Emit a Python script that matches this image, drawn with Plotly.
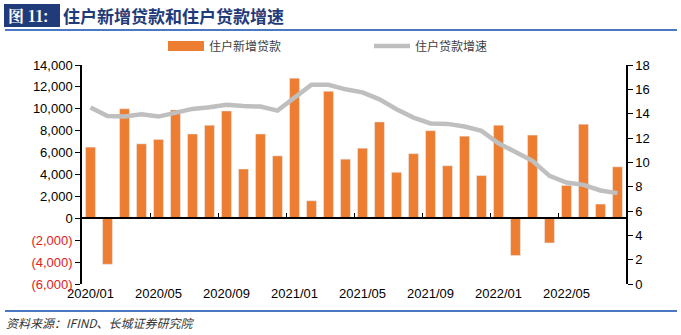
import plotly.graph_objects as go

months = [f"{y}/{m:02d}" for y in (2020, 2021, 2022) for m in range(1, 13)][:32]
new_loans = [6500, -4200, 10000, 6800, 7200, 9900, 7700, 8500, 9800, 4500, 7700, 5700,
             12800, 1600, 11600, 5400, 6400, 8800, 4200, 5900, 8000, 4800, 7500, 3900,
             8500, -3400, 7600, -2250, 3000, 8600, 1300, 4700]
growth = [14.5, 13.8, 13.76, 13.95, 13.76, 14.09, 14.39, 14.52, 14.74, 14.63, 14.58, 14.25,
          15.32, 16.38, 16.38, 16.0, 15.75, 15.18, 14.36, 13.68, 13.2, 13.16, 12.94, 12.58,
          11.57, 10.89, 10.12, 8.89, 8.34, 8.15, 7.69, 7.47]
x_labels = ["2020/01", "2020/05", "2020/09", "2021/01", "2021/05", "2021/09", "2022/01", "2022/05"]
left_ticks = list(range(-6000, 14001, 2000))
right_ticks = list(range(0, 19, 2))

def fmt(v):
    if v < 0:
        return f'<span style="color:#E0201B">({abs(v):,})</span>'
    return f"{v:,}"

xs = list(range(len(months)))
label_pos = [months.index(l) for l in x_labels]

fig = go.Figure()
fig.add_trace(go.Bar(x=xs, y=new_loans, name="住户新增贷款", marker_color="#ED7D31",
                     width=0.58, yaxis="y", showlegend=False))
# legend-only entry giving a wide rectangular swatch for the bars
fig.add_trace(go.Scatter(x=[None], y=[None], name="住户新增贷款", mode="lines",
                         line=dict(color="#ED7D31", width=10), yaxis="y"))
fig.add_trace(go.Scatter(x=xs, y=growth, name="住户贷款增速", mode="lines",
                         line=dict(color="#BFBFBF", width=4.5), yaxis="y2"))
# invisible trace to render the zero-line tick axis
fig.add_trace(go.Scatter(x=[xs[0]], y=[0], xaxis="x2", yaxis="y", mode="markers",
                         marker=dict(opacity=0), showlegend=False, hoverinfo="skip"))

tick_font = dict(family="Liberation Sans, Arial", size=13, color="#000000")
fig.update_layout(
    width=681, height=335,
    margin=dict(l=82, r=55, t=65, b=51),
    plot_bgcolor="white", paper_bgcolor="white",
    showlegend=True,
    legend=dict(orientation="h", x=(163 - 82) / 544, y=(284 - 46) / 219,
                xanchor="left", yanchor="middle",
                font=dict(family="Noto Sans CJK SC", size=12, color="#404040"),
                itemwidth=36, tracegroupgap=0, entrywidth=155, entrywidthmode="pixels",
                bgcolor="rgba(0,0,0,0)"),
    bargap=0.42,
    xaxis=dict(range=[-0.5, 31.5], tickvals=label_pos, ticktext=x_labels,
               showline=False, ticks="", tickfont=tick_font, showgrid=False,
               zeroline=False),
    xaxis2=dict(range=[-0.5, 31.5], overlaying="x", anchor="free", position=0.3,
                tickvals=[3.5, 7.5, 11.5, 15.5, 19.5, 23.5, 27.5], ticks="inside",
                ticklen=5, tickcolor="#000000", showticklabels=False, showline=True,
                linecolor="#000000", linewidth=1.5, showgrid=False, zeroline=False),
    yaxis=dict(range=[-6000, 14000], tickvals=left_ticks,
               ticktext=[fmt(v) for v in left_ticks], tickfont=tick_font,
               showline=True, linecolor="#000000", linewidth=1.5, ticks="outside",
               ticklen=5, tickcolor="#000000", showgrid=False, zeroline=False),
    yaxis2=dict(range=[0, 18], tickvals=right_ticks, overlaying="y", side="right",
                tickfont=tick_font, showline=True, linecolor="#000000", linewidth=1.5,
                ticks="outside", ticklen=5, tickcolor="#000000", showgrid=False,
                zeroline=False),
)

# header and footer decorations
fig.add_shape(type="rect", xref="paper", yref="paper", x0=-78/544, x1=-22/544,
              y0=(284-27)/219, y1=(284-4)/219,
              fillcolor="#1F3B7A", line=dict(width=0), layer="above")
fig.add_shape(type="line", xref="paper", yref="paper", x0=-77/544, x1=595/544,
              y0=(284-30)/219, y1=(284-30)/219, line=dict(color="#4A78C2", width=2))
fig.add_shape(type="line", xref="paper", yref="paper", x0=-77/544, x1=595/544,
              y0=(284-311)/219, y1=(284-311)/219, line=dict(color="#4A78C2", width=2))
fig.add_annotation(xref="paper", yref="paper", x=-76/544, y=(284-15.5)/219,
                   xanchor="left", yanchor="middle", showarrow=False,
                   text="<b>图 11:</b>", font=dict(family="Noto Serif CJK SC, Noto Sans CJK SC", size=16, color="white"))
fig.add_annotation(xref="paper", yref="paper", x=-21/544, y=(284-15.5)/219,
                   xanchor="left", yanchor="middle", showarrow=False,
                   text="<b>住户新增贷款和住户贷款增速</b>",
                   font=dict(family="Noto Sans CJK SC", size=17, color="#1F3B7A"))
fig.add_annotation(xref="paper", yref="paper", x=-78/544, y=(284-322)/219,
                   xanchor="left", yanchor="middle", showarrow=False,
                   text="<i>资料来源：IFIND、长城证券研究院</i>",
                   font=dict(family="Noto Sans CJK SC", size=12, color="#333333"))

fig.write_html("out.html")
